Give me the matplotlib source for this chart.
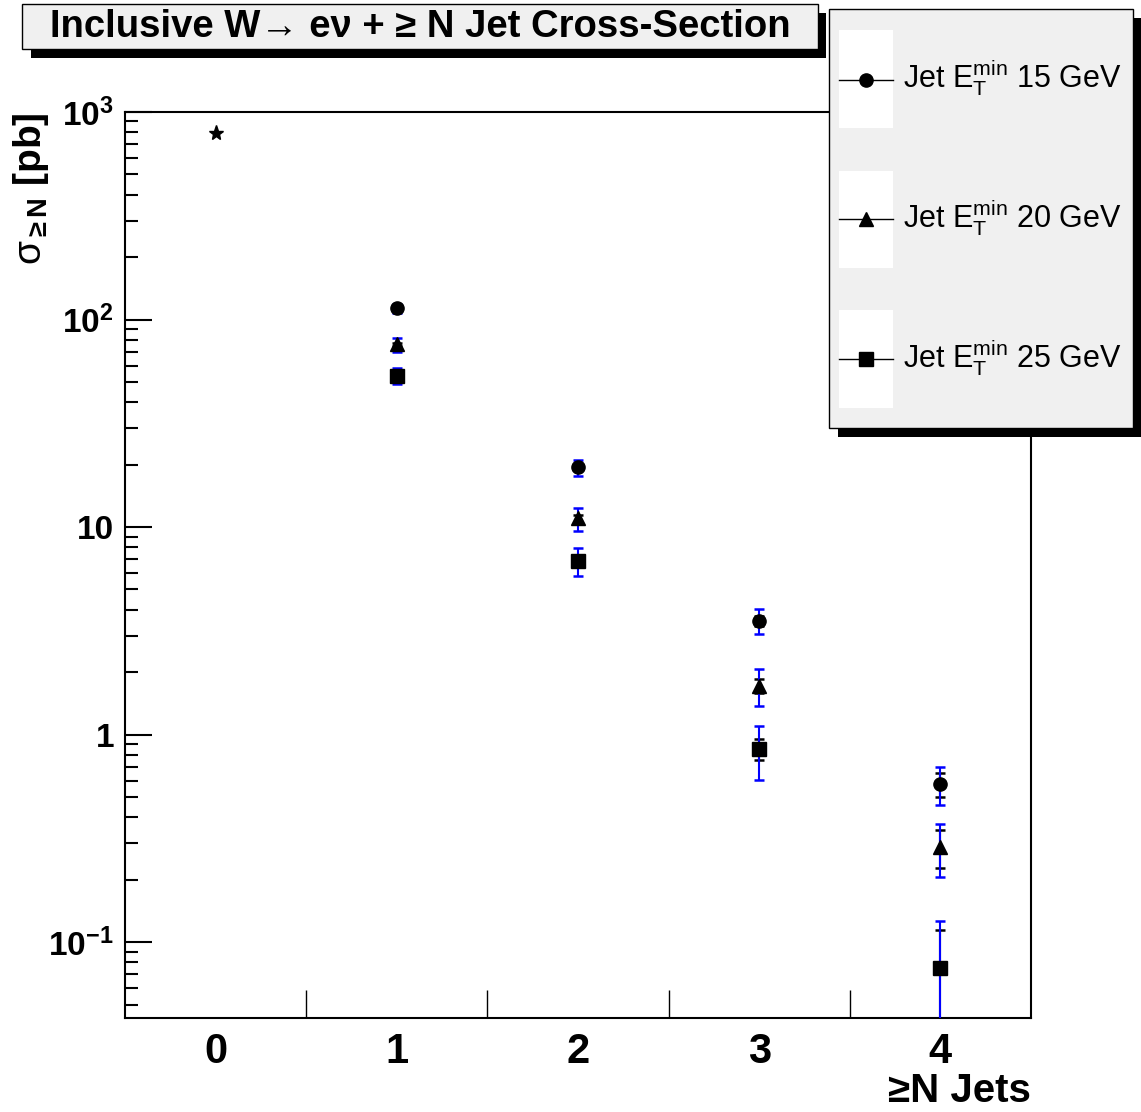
import matplotlib
matplotlib.use("Agg")
import matplotlib.pyplot as plt
from matplotlib.patches import Rectangle
from matplotlib.lines import Line2D
from matplotlib.ticker import FixedLocator, FixedFormatter, NullFormatter, LogLocator

plt.rcParams['font.family'] = ['Liberation Sans', 'DejaVu Sans']
plt.rcParams['mathtext.fontset'] = 'custom'
plt.rcParams['mathtext.rm'] = 'Liberation Sans'
plt.rcParams['mathtext.it'] = 'Liberation Sans'
plt.rcParams['mathtext.bf'] = 'Liberation Sans:bold'

# ---------------- data ----------------
n_jets = [1, 2, 3, 4]
x_tick_labels = ['0', '1', '2', '3', '4']
inclusive_n0 = [790.0]

xs_et15 = [113.0, 19.4, 3.53, 0.577]
tot_et15 = [6.0, 1.7, 0.49, 0.12]
stat_et15 = [1.5, 0.6, 0.2, 0.078]

xs_et20 = [75.8, 11.0, 1.72, 0.288]
tot_et20 = [6.0, 1.4, 0.34, 0.082]
stat_et20 = [1.2, 0.45, 0.13, 0.06]

xs_et25 = [53.7, 6.85, 0.851, 0.0746]
tot_et25 = [4.6, 1.04, 0.244, 0.052]
stat_et25 = [1.0, 0.35, 0.10, 0.040]

legend_labels = [r'Jet E$_{\mathregular{T}}^{\mathregular{min}}$ 15 GeV',
                 r'Jet E$_{\mathregular{T}}^{\mathregular{min}}$ 20 GeV',
                 r'Jet E$_{\mathregular{T}}^{\mathregular{min}}$ 25 GeV']
y_ticks = [0.1, 1, 10, 100, 1000]
y_tick_labels = [r'$\mathbf{10^{-1}}$', '1', '10', r'$\mathbf{10^{2}}$', r'$\mathbf{10^{3}}$']
title = 'Inclusive W\u2192 e\u03bd + \u2265 N Jet Cross-Section'
ylabel = r'$\sigma_{\mathbf{\geq N}}$ [pb]'
xlabel = '\u2265N Jets'

# ---------------- figure ----------------
W, H = 1141, 1112
fig = plt.figure(figsize=(W / 100, H / 100), dpi=100)
fig.patch.set_facecolor('white')


def fx(px):
    return px / W


def fy(py):
    return 1 - py / H


ax = fig.add_axes([fx(125), fy(1018), (1031 - 125) / W, (1018 - 112) / H])
ax.set_yscale('log')
ax.set_xlim(-0.5, 4.5)
ax.set_ylim(10 ** -1.366, 1000)
for s in ax.spines.values():
    s.set_linewidth(1.5)

series = [
    (xs_et15, tot_et15, stat_et15, 'o'),
    (xs_et20, tot_et20, stat_et20, '^'),
    (xs_et25, tot_et25, stat_et25, 's'),
]
for vals, tot, stat, mk in series:
    ax.errorbar(n_jets, vals, yerr=stat, fmt='none', ecolor='black',
                elinewidth=1.5, capsize=3.6, capthick=1.8, zorder=2)
    ax.errorbar(n_jets, vals, yerr=tot, fmt='none', ecolor='#0000ff',
                elinewidth=1.5, capsize=3.6, capthick=1.8, zorder=3)
    ax.plot(n_jets, vals, linestyle='none', marker=mk, ms=9.5,
            color='black', zorder=4)
ax.plot([0], inclusive_n0, linestyle='none', marker='*', ms=11,
        color='black', zorder=4)

# axes ticks
ax.set_xticks([0.5, 1.5, 2.5, 3.5])
ax.set_xticklabels([])
ax.set_xticks([0, 1, 2, 3, 4], minor=True)
ax.set_xticklabels(x_tick_labels, minor=True, fontsize=30, fontweight='bold')
ax.tick_params(axis='x', which='major', direction='in', length=20, width=1,
               top=False, bottom=True)
ax.tick_params(axis='x', which='minor', length=0, pad=10)

ax.yaxis.set_major_locator(FixedLocator(y_ticks))
ax.yaxis.set_major_formatter(FixedFormatter(y_tick_labels))
ax.yaxis.set_minor_locator(LogLocator(base=10, subs=range(2, 10), numticks=20))
ax.yaxis.set_minor_formatter(NullFormatter())
ax.tick_params(axis='y', which='major', direction='in', length=19.5,
               width=1.5, left=True, right=False, pad=8, labelsize=24)
ax.tick_params(axis='y', which='minor', direction='in', length=9.5,
               width=1.5, left=True, right=False)
for lab in ax.get_yticklabels():
    lab.set_fontweight('bold')

# axis labels
fig.text(fx(31), fy(112), ylabel, rotation=90, ha='center', va='top',
         fontsize=28, fontweight='bold')
fig.text(fx(1031), fy(1102), xlabel, ha='right', va='baseline',
         fontsize=29, fontweight='bold')

# title box
fig.add_artist(Rectangle((fx(31), fy(58)), fx(826 - 31), (58 - 13) / H,
                         transform=fig.transFigure, facecolor='black',
                         edgecolor='none', zorder=5))
fig.add_artist(Rectangle((fx(22), fy(49)), fx(818 - 22), (49 - 4) / H,
                         transform=fig.transFigure, facecolor='#f0f0f0',
                         edgecolor='black', linewidth=1, zorder=6))
fig.text(fx(420), fy(27), title, ha='center', va='center', fontsize=27.5,
         fontweight='bold', zorder=7)

# legend box
fig.add_artist(Rectangle((fx(838), fy(437)), fx(1141 - 838), (437 - 18) / H,
                         transform=fig.transFigure, facecolor='black',
                         edgecolor='none', zorder=5))
fig.add_artist(Rectangle((fx(829), fy(428)), fx(1133 - 829), (428 - 9) / H,
                         transform=fig.transFigure, facecolor='#f0f0f0',
                         edgecolor='black', linewidth=1, zorder=6))
entry_boxes = [(30, 128), (171, 268), (310, 408)]
entry_lines = [80, 219, 359]
entry_base = [87, 227, 367]
markers = ['o', '^', 's']
for (t, b), ly, by, mk, lab in zip(entry_boxes, entry_lines, entry_base,
                                   markers, legend_labels):
    fig.add_artist(Rectangle((fx(839), fy(b)), fx(893 - 839), (b - t) / H,
                             transform=fig.transFigure, facecolor='white',
                             edgecolor='none', zorder=7))
    fig.add_artist(Line2D([fx(839), fx(893)], [fy(ly), fy(ly)],
                          transform=fig.transFigure, color='black', lw=1,
                          zorder=8))
    fig.add_artist(Line2D([fx(866)], [fy(ly)], transform=fig.transFigure,
                          marker=mk, ms=9.5, color='black', ls='none',
                          zorder=9))
    fig.text(fx(903), fy(by), lab, ha='left', va='baseline', fontsize=22,
             zorder=9)

fig.savefig('out.png', dpi=100)
